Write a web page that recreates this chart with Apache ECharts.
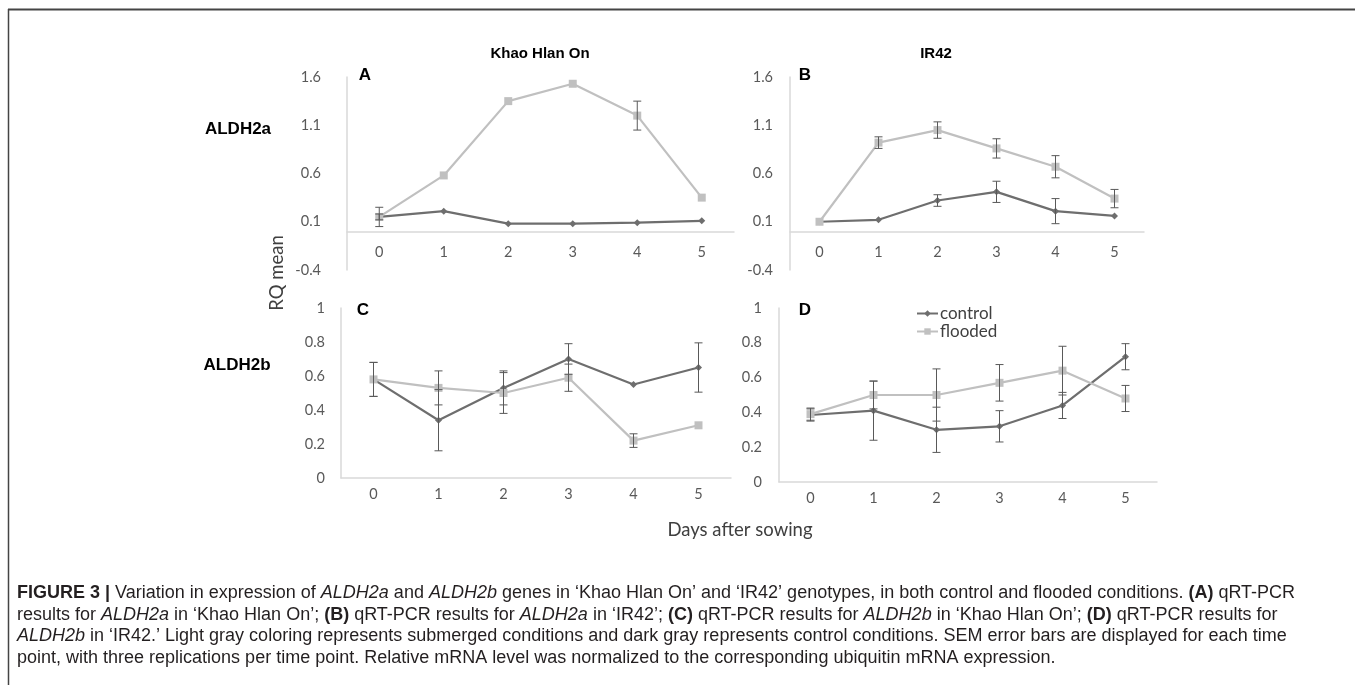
<!DOCTYPE html>
<html>
<head>
<meta charset="utf-8">
<title>ALDH2a / ALDH2b expression</title>
<script src="https://cdn.jsdelivr.net/npm/echarts@6/dist/echarts.min.js"></script>
<style>
  html, body { margin: 0; padding: 0; background: #fff; }
  #chart { width: 1355px; height: 685px; }
</style>
</head>
<body>
<div id="chart"></div>
<script>
// x categories (days after sowing) and y tick labels
var days = ['0', '1', '2', '3', '4', '5'];
var ticks2a = [-0.4, 0.1, 0.6, 1.1, 1.6];
var ticks2b = [0, 0.2, 0.4, 0.6, 0.8, 1];

// A: ALDH2a in Khao Hlan On
var aControl = [0.15, 0.21, 0.08, 0.08, 0.09, 0.11];
var aControlErr = [0.03, 0, 0, 0, 0, 0];
var aFlooded = [0.15, 0.58, 1.35, 1.53, 1.20, 0.35];
var aFloodedErr = [0.10, 0, 0, 0, 0.15, 0];

// B: ALDH2a in IR42
var bControl = [0.10, 0.12, 0.32, 0.41, 0.21, 0.16];
var bControlErr = [0, 0, 0.06, 0.11, 0.13, 0];
var bFlooded = [0.10, 0.92, 1.05, 0.86, 0.67, 0.34];
var bFloodedErr = [0, 0.06, 0.085, 0.10, 0.115, 0.095];

// C: ALDH2b in Khao Hlan On
var cControl = [0.58, 0.34, 0.53, 0.70, 0.55, 0.65];
var cControlErr = [0.10, 0.18, 0.10, 0.09, 0, 0.145];
var cFlooded = [0.58, 0.53, 0.50, 0.59, 0.22, 0.31];
var cFloodedErr = [0.10, 0.10, 0.12, 0.08, 0.04, 0];

// D: ALDH2b in IR42
var dControl = [0.385, 0.41, 0.30, 0.32, 0.44, 0.72];
var dControlErr = [0.035, 0.17, 0.13, 0.09, 0.075, 0.075];
var dFlooded = [0.39, 0.50, 0.50, 0.57, 0.64, 0.48];
var dFloodedErr = [0.035, 0.08, 0.15, 0.105, 0.14, 0.075];

var darkGray = '#6e6e6e';
var lightGray = '#c0c0c0';
var axisGray = '#d9d9d9';
var labelGray = '#595959';
var tickFont = 'Lato, "Open Sans", sans-serif';

var chart = echarts.init(document.getElementById('chart'));

// one line series
function lineSeries(name, values, idx, color, symbol, size) {
  return {
    name: name,
    type: 'line',
    xAxisIndex: idx,
    yAxisIndex: idx,
    data: values,
    symbol: symbol,
    symbolSize: size,
    lineStyle: { color: color, width: 2.2 },
    itemStyle: { color: color },
    z: 2
  };
}

// error bars drawn with a custom series
function errRender(params, api) {
  var x = api.value(0), v = api.value(1), e = api.value(2);
  if (!e) return;
  var top = api.coord([x, v + e]);
  var bot = api.coord([x, v - e]);
  var w = 4;
  var st = { stroke: '#595959', lineWidth: 1 };
  return {
    type: 'group',
    children: [
      { type: 'line', shape: { x1: top[0], y1: top[1], x2: bot[0], y2: bot[1] }, style: st },
      { type: 'line', shape: { x1: top[0] - w, y1: top[1], x2: top[0] + w, y2: top[1] }, style: st },
      { type: 'line', shape: { x1: bot[0] - w, y1: bot[1], x2: bot[0] + w, y2: bot[1] }, style: st }
    ]
  };
}

function errSeries(values, errs, idx) {
  return {
    type: 'custom',
    xAxisIndex: idx,
    yAxisIndex: idx,
    renderItem: errRender,
    encode: { x: 0, y: 1 },
    data: values.map(function (v, i) { return [i, v, errs[i]]; }),
    silent: true,
    z: 3
  };
}

function xAxis(idx, margin) {
  return {
    type: 'category',
    gridIndex: idx,
    data: days,
    axisTick: { show: false },
    axisLine: { onZero: true, lineStyle: { color: axisGray, width: 1.5 } },
    axisLabel: { color: labelGray, fontSize: 14.5, fontFamily: tickFont, margin: margin }
  };
}

function yAxis(idx, min, max, ticks, margin) {
  return {
    type: 'value',
    gridIndex: idx,
    min: min,
    max: max,
    splitLine: { show: false },
    axisTick: { show: false },
    axisLine: { show: true, lineStyle: { color: axisGray, width: 1.5 } },
    axisLabel: {
      color: labelGray, fontSize: 14.5, fontFamily: tickFont, margin: margin,
      customValues: ticks,
      formatter: function (v) { return String(Math.round(v * 10) / 10); }
    }
  };
}

function txt(x, y, s, size, weight, color, extra) {
  var o = {
    type: 'text', x: x, y: y,
    style: {
      text: s, fontSize: size, fontWeight: weight || 'normal',
      fontFamily: 'Liberation Sans, Arial, sans-serif',
      fill: color || '#000', align: 'center', verticalAlign: 'middle'
    }
  };
  if (extra) Object.assign(o, extra);
  return o;
}

var captionRich = {
  b: { fontWeight: 'bold', fontSize: 18, fontFamily: 'Liberation Sans', fill: '#231f20' },
  i: { fontStyle: 'italic', fontSize: 18, fontFamily: 'Liberation Sans', fill: '#231f20' }
};
var captionLines = [
  '{b|FIGURE 3 |} Variation in expression of {i|ALDH2a} and {i|ALDH2b} genes in \u2018Khao Hlan On\u2019 and \u2018IR42\u2019 genotypes, in both control and flooded conditions. {b|(A)} qRT-PCR',
  'results for {i|ALDH2a} in \u2018Khao Hlan On\u2019; {b|(B)} qRT-PCR results for {i|ALDH2a} in \u2018IR42\u2019; {b|(C)} qRT-PCR results for {i|ALDH2b} in \u2018Khao Hlan On\u2019; {b|(D)} qRT-PCR results for',
  '{i|ALDH2b} in \u2018IR42.\u2019 Light gray coloring represents submerged conditions and dark gray represents control conditions. SEM error bars are displayed for each time',
  'point, with three replications per time point. Relative mRNA level was normalized to the corresponding ubiquitin mRNA expression.'
];

var graphics = [
  { type: 'line', shape: { x1: 8.5, y1: 9, x2: 8.5, y2: 685 }, style: { stroke: '#444', lineWidth: 1.5 } },
  { type: 'line', shape: { x1: 8, y1: 9.5, x2: 1355, y2: 9.5 }, style: { stroke: '#444', lineWidth: 2 } },
  txt(540, 54, 'Khao Hlan On', 15, 'bold'),
  txt(936, 54, 'IR42', 15, 'bold'),
  txt(238, 129, 'ALDH2a', 17, 'bold'),
  txt(237, 365, 'ALDH2b', 17, 'bold'),
  txt(365, 75, 'A', 17, 'bold'),
  txt(805, 75, 'B', 17, 'bold'),
  txt(363, 310, 'C', 17, 'bold'),
  txt(805, 310, 'D', 17, 'bold'),
  txt(277, 273, 'RQ mean', 18.5, 'normal', '#404040', { rotation: Math.PI / 2 }),
  txt(740, 530, 'Days after sowing', 18.5, 'normal', '#404040')
];
graphics[10].style.fontFamily = tickFont;
graphics[11].style.fontFamily = tickFont;

captionLines.forEach(function (line, i) {
  graphics.push({
    type: 'text', x: 17, y: 593 + i * 21.6,
    style: {
      text: line, rich: captionRich, fontSize: 18,
      fontFamily: 'Liberation Sans', fill: '#231f20',
      align: 'left', verticalAlign: 'middle'
    }
  });
});

var option = {
  animation: false,
  backgroundColor: '#fff',
  grid: [
    { left: 347, top: 77, width: 387, height: 193 },
    { left: 790, top: 77, width: 354, height: 193 },
    { left: 341, top: 308, width: 390, height: 170 },
    { left: 779, top: 308, width: 378, height: 174 }
  ],
  // top row: labels sit under the zero line, not at the grid bottom
  xAxis: [xAxis(0, -25), xAxis(1, -25), xAxis(2, 9), xAxis(3, 9)],
  yAxis: [
    yAxis(0, -0.4, 1.6, ticks2a, 26),
    yAxis(1, -0.4, 1.6, ticks2a, 17),
    yAxis(2, 0, 1, ticks2b, 16),
    yAxis(3, 0, 1, ticks2b, 17)
  ],
  legend: {
    data: ['control', 'flooded'],
    orient: 'vertical',
    left: 911,
    top: 300,
    itemWidth: 21,
    itemHeight: 8,
    itemGap: 1,
    textStyle: { color: '#404040', fontSize: 17, fontFamily: tickFont, padding: [0, 0, 0, -3] }
  },
  series: [
    lineSeries('control', aControl, 0, darkGray, 'diamond', 7),
    lineSeries('flooded', aFlooded, 0, lightGray, 'rect', 8),
    lineSeries('control', bControl, 1, darkGray, 'diamond', 7),
    lineSeries('flooded', bFlooded, 1, lightGray, 'rect', 8),
    lineSeries('control', cControl, 2, darkGray, 'diamond', 7),
    lineSeries('flooded', cFlooded, 2, lightGray, 'rect', 8),
    lineSeries('control', dControl, 3, darkGray, 'diamond', 7),
    lineSeries('flooded', dFlooded, 3, lightGray, 'rect', 8),
    errSeries(aControl, aControlErr, 0),
    errSeries(aFlooded, aFloodedErr, 0),
    errSeries(bControl, bControlErr, 1),
    errSeries(bFlooded, bFloodedErr, 1),
    errSeries(cControl, cControlErr, 2),
    errSeries(cFlooded, cFloodedErr, 2),
    errSeries(dControl, dControlErr, 3),
    errSeries(dFlooded, dFloodedErr, 3)
  ],
  graphic: graphics
};

chart.setOption(option);
</script>
</body>
</html>
